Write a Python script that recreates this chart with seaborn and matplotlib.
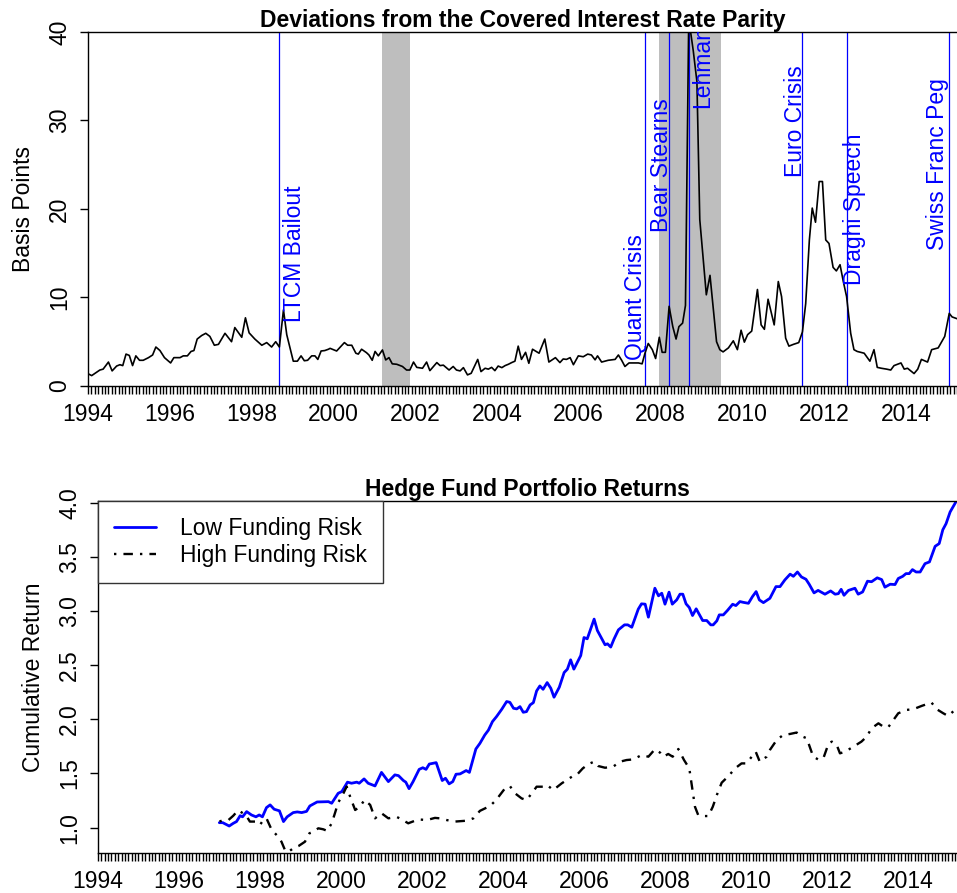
import matplotlib
matplotlib.use("Agg")
import matplotlib.pyplot as plt
from matplotlib.ticker import MultipleLocator
import seaborn as sns

# ------------------------------------------------------------
# Data (decimal years)
# ------------------------------------------------------------
cip_year = [
    1994.01, 1994.09, 1994.21, 1994.29, 1994.37, 1994.50, 1994.59, 1994.70, 1994.78, 1994.85,
    1994.93, 1995.01, 1995.09, 1995.17, 1995.26, 1995.35, 1995.48, 1995.58, 1995.66, 1995.76,
    1995.87, 1996.02, 1996.10, 1996.25, 1996.33, 1996.43, 1996.52, 1996.59, 1996.67, 1996.78,
    1996.88, 1996.98, 1997.09, 1997.19, 1997.35, 1997.51, 1997.59, 1997.76, 1997.85, 1997.94,
    1998.08, 1998.25, 1998.37, 1998.49, 1998.59, 1998.68, 1998.78, 1998.86, 1999.02, 1999.12,
    1999.21, 1999.29, 1999.37, 1999.47, 1999.55, 1999.62, 1999.70, 1999.79, 1999.88,
    1999.92, 2000.08, 2000.27, 2000.35, 2000.45, 2000.55, 2000.61, 2000.69, 2000.81, 2000.87,
    2000.95, 2001.02, 2001.10, 2001.20, 2001.28, 2001.36, 2001.44, 2001.55, 2001.69, 2001.79,
    2001.87, 2001.96, 2002.04, 2002.18, 2002.28, 2002.36, 2002.53, 2002.61, 2002.69, 2002.83,
    2002.93, 2003.01, 2003.10, 2003.18, 2003.28, 2003.37, 2003.53, 2003.61, 2003.71, 2003.79,
    2003.87, 2003.95, 2004.03, 2004.12, 2004.20, 2004.28, 2004.36, 2004.44, 2004.52, 2004.60,
    2004.70, 2004.78, 2004.87, 2005.03, 2005.17, 2005.27, 2005.43, 2005.54, 2005.62, 2005.70,
    2005.79, 2005.87, 2005.99, 2006.11, 2006.22, 2006.31, 2006.40, 2006.46, 2006.56, 2006.72,
    2006.89, 2006.97, 2007.05, 2007.13, 2007.23, 2007.33, 2007.46, 2007.55, 2007.62, 2007.70,
    2007.80, 2007.88, 2007.97, 2008.04, 2008.12, 2008.21, 2008.30, 2008.38, 2008.45, 2008.54,
    2008.61, 2008.69, 2008.80, 2008.89, 2008.96, 2009.12, 2009.21, 2009.37, 2009.45, 2009.53,
    2009.66, 2009.78, 2009.88, 2009.97, 2010.05, 2010.13, 2010.23, 2010.37, 2010.46, 2010.54,
    2010.63, 2010.78, 2010.88, 2010.96, 2011.06, 2011.14, 2011.25, 2011.38, 2011.47, 2011.55,
    2011.64, 2011.71, 2011.79, 2011.88, 2011.96, 2012.04, 2012.12, 2012.22, 2012.30, 2012.39,
    2012.47, 2012.55, 2012.65, 2012.73, 2012.81, 2012.90, 2012.98, 2013.12, 2013.22, 2013.30,
    2013.40, 2013.53, 2013.63, 2013.71, 2013.88, 2013.96, 2014.04, 2014.12, 2014.20, 2014.29,
    2014.38, 2014.53, 2014.63, 2014.79, 2014.95, 2015.06, 2015.13, 2015.25,
]
cip_bp = [
    1.36, 1.17, 1.54, 1.8, 1.9, 2.7, 1.7, 2.25, 2.4, 2.3,
    3.6, 3.45, 2.3, 3.4, 2.9, 2.9, 3.2, 3.5, 4.4, 4.0,
    3.2, 2.6, 3.2, 3.2, 3.4, 3.4, 3.9, 4.0, 5.3, 5.7,
    5.95, 5.6, 4.6, 4.7, 5.95, 5.0, 6.6, 5.5, 7.7, 6.0,
    5.3, 4.6, 4.9, 4.4, 5.0, 4.4, 8.6, 5.8, 2.8, 2.8,
    3.4, 2.85, 2.9, 3.4, 3.4, 3.0, 3.95, 4.0, 4.15,
    4.25, 3.95, 4.9, 4.6, 4.6, 3.7, 3.6, 4.15, 3.76, 3.5,
    2.9, 3.9, 3.4, 4.07, 2.94, 3.2, 2.5, 2.45, 2.2, 1.8,
    1.8, 2.7, 2.1, 2.0, 2.7, 1.73, 2.64, 2.3, 2.35, 1.8,
    2.2, 1.8, 1.7, 2.07, 1.25, 1.43, 3.0, 1.62, 2.0, 1.9,
    2.1, 1.73, 2.25, 2.07, 2.3, 2.45, 2.64, 2.8, 4.5, 3.0,
    3.8, 2.56, 4.15, 3.7, 5.3, 2.7, 3.2, 2.64, 3.05, 3.0,
    3.2, 2.4, 3.4, 3.3, 3.6, 3.5, 2.95, 3.4, 2.7, 2.9,
    3.0, 3.5, 2.9, 2.2, 2.6, 2.6, 2.6, 2.5, 3.7, 4.8,
    4.1, 3.1, 5.5, 3.8, 3.8, 9.0, 6.7, 5.3, 6.7, 7.1,
    9.1, 41.5, 37.9, 34.4, 18.8, 10.3, 12.5, 5.0, 4.1, 3.85,
    4.3, 5.1, 4.1, 6.3, 4.95, 5.8, 6.2, 10.9, 6.9, 6.4,
    9.8, 6.9, 11.8, 10.1, 5.4, 4.5, 4.7, 4.9, 6.1, 9.3,
    16.5, 20.1, 18.5, 23.1, 23.1, 16.5, 16.1, 13.4, 13.0, 13.7,
    11.8, 10.1, 5.96, 4.1, 3.9, 3.8, 3.7, 2.8, 4.1, 2.1,
    2.0, 1.9, 1.8, 2.3, 2.6, 1.9, 2.0, 1.7, 1.4, 1.9,
    3.0, 2.7, 4.1, 4.3, 5.6, 8.2, 7.8, 7.6,
]

recession_start = [2001.19, 2007.96]
recession_end = [2001.87, 2009.47]

events = ["LTCM Bailout", "Quant Crisis", "Bear Stearns", "Lehman",
          "Euro Crisis", "Draghi Speech", "Swiss Franc Peg"]
event_year = [1998.68, 2007.62, 2008.20, 2008.70, 2011.47, 2012.55, 2015.05]
event_label_x = [1999.04, 2007.40, 2008.03, 2009.04, 2011.31, 2012.75, 2014.78]
event_label_y = [7.2, 2.9, 17.4, 31.4, 23.6, 11.4, 15.4]

low_year = [
    1996.995, 1997.08, 1997.24, 1997.34, 1997.42, 1997.51, 1997.57, 1997.67, 1997.79, 1997.90,
    1997.98, 1998.06, 1998.16, 1998.25, 1998.35, 1998.48, 1998.58, 1998.67, 1998.82, 1998.92,
    1999.03, 1999.15, 1999.23, 1999.41, 1999.69, 1999.77, 1999.93, 2000.02, 2000.16, 2000.26,
    2000.39, 2000.45, 2000.57, 2000.67, 2000.84, 2001.00, 2001.17, 2001.33, 2001.42, 2001.54,
    2001.60, 2001.68, 2001.78, 2001.93, 2002.02, 2002.10, 2002.18, 2002.35, 2002.50, 2002.58,
    2002.67, 2002.76, 2002.84, 2002.94, 2003.09, 2003.17, 2003.33, 2003.43, 2003.55, 2003.64,
    2003.74, 2003.84, 2003.97, 2004.09, 2004.17, 2004.26, 2004.34, 2004.42, 2004.50, 2004.58,
    2004.67, 2004.75, 2004.83, 2004.91, 2004.99, 2005.09, 2005.18, 2005.26, 2005.39, 2005.51,
    2005.59, 2005.67, 2005.75, 2005.92, 2006.00, 2006.08, 2006.25, 2006.33, 2006.52, 2006.58,
    2006.66, 2006.74, 2006.85, 2007.00, 2007.08, 2007.18, 2007.34, 2007.42, 2007.51, 2007.59,
    2007.75, 2007.84, 2007.92, 2008.00, 2008.10, 2008.18, 2008.29, 2008.37, 2008.44, 2008.52,
    2008.60, 2008.68, 2008.77, 2008.93, 2009.03, 2009.13, 2009.19, 2009.28, 2009.34, 2009.44,
    2009.54, 2009.67, 2009.75, 2009.85, 2009.93, 2010.06, 2010.16, 2010.25, 2010.33, 2010.43,
    2010.59, 2010.74, 2010.84, 2010.96, 2011.09, 2011.17, 2011.27, 2011.37, 2011.48, 2011.56,
    2011.68, 2011.78, 2011.95, 2012.09, 2012.20, 2012.28, 2012.35, 2012.42, 2012.53, 2012.69,
    2012.77, 2012.88, 2013.00, 2013.10, 2013.24, 2013.35, 2013.43, 2013.56, 2013.68, 2013.76,
    2013.87, 2013.95, 2014.03, 2014.11, 2014.20, 2014.30, 2014.42, 2014.53, 2014.67, 2014.77,
    2014.86, 2014.94, 2015.04, 2015.19,
]
low_ret = [
    1.046, 1.046, 1.015, 1.04, 1.056, 1.11, 1.10, 1.148, 1.117, 1.10,
    1.117, 1.10, 1.185, 1.21, 1.17, 1.155, 1.056, 1.10, 1.139, 1.145,
    1.139, 1.15, 1.20, 1.237, 1.24, 1.225, 1.317, 1.333, 1.42, 1.41,
    1.42, 1.41, 1.45, 1.41, 1.385, 1.51, 1.425, 1.487, 1.48, 1.435,
    1.42, 1.36, 1.425, 1.538, 1.553, 1.538, 1.587, 1.60, 1.435, 1.456,
    1.404, 1.425, 1.493, 1.496, 1.527, 1.51, 1.726, 1.778, 1.855, 1.90,
    1.979, 2.025, 2.093, 2.164, 2.157, 2.102, 2.096, 2.117, 2.065, 2.071,
    2.133, 2.154, 2.262, 2.308, 2.277, 2.339, 2.287, 2.204, 2.296, 2.432,
    2.463, 2.549, 2.463, 2.589, 2.755, 2.743, 2.925, 2.82, 2.688, 2.697,
    2.667, 2.74, 2.826, 2.872, 2.872, 2.85, 3.017, 3.066, 3.063, 2.943,
    3.21, 3.14, 3.164, 3.063, 3.174, 3.063, 3.103, 3.155, 3.155, 3.066,
    3.032, 2.958, 3.02, 2.912, 2.912, 2.872, 2.872, 2.909, 2.964, 2.964,
    3.004, 3.062, 3.05, 3.087, 3.08, 3.071, 3.133, 3.179, 3.102, 3.077,
    3.117, 3.225, 3.225, 3.287, 3.34, 3.32, 3.36, 3.314, 3.293, 3.247,
    3.167, 3.19, 3.155, 3.185, 3.155, 3.16, 3.2, 3.145, 3.19, 3.21,
    3.155, 3.176, 3.275, 3.27, 3.306, 3.29, 3.22, 3.247, 3.244, 3.30,
    3.32, 3.345, 3.345, 3.382, 3.36, 3.36, 3.437, 3.453, 3.597, 3.622,
    3.75, 3.806, 3.914, 4.012,
]

high_year = [
    1997.00, 1997.09, 1997.22, 1997.34, 1997.46, 1997.55, 1997.65, 1997.75, 1997.88, 1998.00,
    1998.08, 1998.16, 1998.29, 1998.45, 1998.53, 1998.62, 1998.70, 1998.82, 1998.95, 1999.11,
    1999.22, 1999.32, 1999.44, 1999.56, 1999.66, 1999.77, 1999.85, 1999.93, 2000.06, 2000.14,
    2000.24, 2000.35, 2000.47, 2000.58, 2000.72, 2000.84, 2001.00, 2001.17, 2001.37, 2001.50,
    2001.66, 2001.91, 2002.12, 2002.32, 2002.44, 2002.61, 2002.81, 2003.10, 2003.27, 2003.43,
    2003.68, 2003.83, 2004.05, 2004.17, 2004.30, 2004.46, 2004.58, 2004.71, 2004.83, 2004.99,
    2005.09, 2005.24, 2005.45, 2005.70, 2005.82, 2005.97, 2006.11, 2006.25, 2006.35, 2006.52,
    2006.72, 2006.89, 2007.05, 2007.22, 2007.42, 2007.59, 2007.75, 2007.88, 2007.96, 2008.08,
    2008.19, 2008.33, 2008.47, 2008.60, 2008.68, 2008.74, 2008.82, 2008.95, 2009.07, 2009.18,
    2009.28, 2009.40, 2009.57, 2009.73, 2009.89, 2010.01, 2010.24, 2010.34, 2010.51, 2010.59,
    2010.76, 2010.92, 2011.09, 2011.25, 2011.40, 2011.50, 2011.66, 2011.78, 2011.91, 2012.04,
    2012.12, 2012.24, 2012.32, 2012.44, 2012.65, 2012.85, 2012.98, 2013.10, 2013.27, 2013.39,
    2013.51, 2013.64, 2013.76, 2013.97, 2014.13, 2014.34, 2014.46, 2014.58, 2014.71, 2014.87,
    2014.99, 2015.16,
]
high_ret = [
    1.056, 1.07, 1.07, 1.11, 1.16, 1.14, 1.117, 1.056, 1.056, 1.025,
    1.07, 1.086, 0.978, 0.917, 0.87, 0.79, 0.775, 0.81, 0.83, 0.87,
    0.948, 0.963, 0.994, 0.985, 0.97, 1.04, 1.133, 1.23, 1.317, 1.38,
    1.27, 1.163, 1.194, 1.256, 1.21, 1.086, 1.133, 1.086, 1.10, 1.076,
    1.04, 1.076, 1.07, 1.09, 1.086, 1.07, 1.056, 1.064, 1.086, 1.155,
    1.20, 1.255, 1.363, 1.384, 1.316, 1.27, 1.255, 1.316, 1.378, 1.378,
    1.393, 1.347, 1.409, 1.47, 1.486, 1.547, 1.587, 1.609, 1.569, 1.553,
    1.563, 1.609, 1.624, 1.63, 1.67, 1.655, 1.723, 1.692, 1.655, 1.68,
    1.655, 1.726, 1.624, 1.547, 1.347, 1.193, 1.116, 1.107, 1.107, 1.193,
    1.301, 1.415, 1.477, 1.547, 1.593, 1.593, 1.701, 1.609, 1.655, 1.717,
    1.81, 1.856, 1.865, 1.878, 1.84, 1.825, 1.655, 1.63, 1.64, 1.778,
    1.794, 1.763, 1.686, 1.70, 1.747, 1.794, 1.84, 1.917, 1.963, 1.932,
    1.926, 1.994, 2.056, 2.087, 2.093, 2.124, 2.14, 2.155, 2.093, 2.056,
    2.031, 2.087,
]

year_ticks = list(range(1994, 2015, 2))

# ------------------------------------------------------------
# Style
# ------------------------------------------------------------
sns.set_style("ticks")
plt.rcParams["font.family"] = ["Liberation Sans", "DejaVu Sans"]
plt.rcParams["text.color"] = "black"
plt.rcParams["axes.labelcolor"] = "black"
plt.rcParams["xtick.color"] = "black"
plt.rcParams["ytick.color"] = "black"
FS = 16.5

fig = plt.figure(figsize=(9.57, 8.93), dpi=100)
ax1 = fig.add_axes([0.09195, 0.5678, 0.90805, 0.3964])
ax2 = fig.add_axes([0.1024, 0.0448, 0.8976, 0.3945])

# ------------------------------------------------------------
# Top panel: CIP deviations
# ------------------------------------------------------------
for s, e in zip(recession_start, recession_end):
    ax1.axvspan(s, e, color="#bebebe", lw=0, zorder=0)

for yr in event_year:
    ax1.axvline(yr, color="#0000ff", lw=0.9, zorder=1)

sns.lineplot(x=cip_year, y=cip_bp, ax=ax1, color="black", lw=1.2, sort=False, zorder=3)

for name, lx, ly in zip(events, event_label_x, event_label_y):
    ax1.text(lx, ly, name, rotation=90, ha="center", va="bottom", color="#0000ff",
             fontsize=FS, clip_on=True, zorder=4)

ax1.set_xlim(1994, 2015.25)
ax1.set_ylim(0, 40)
ax1.set_yticks([0, 10, 20, 30, 40])
ax1.set_title("Deviations from the Covered Interest Rate Parity", fontsize=FS,
              fontweight="bold", pad=3, color="black")
ax1.set_ylabel("Basis Points", fontsize=FS)
ax1.yaxis.set_label_coords(-0.061, 0.5)

# ------------------------------------------------------------
# Bottom panel: hedge fund portfolio returns
# ------------------------------------------------------------
sns.lineplot(x=low_year, y=low_ret, ax=ax2, color="#0000ff", lw=2.0, sort=False,
             label="Low Funding Risk")
sns.lineplot(x=high_year, y=high_ret, ax=ax2, color="black", lw=1.7, sort=False,
             linestyle=(0, (1, 3, 4, 3)), label="High Funding Risk")

ax2.set_xlim(1994, 2015.21)
ax2.set_ylim(0.766, 4.018)
ax2.set_yticks([1.0, 1.5, 2.0, 2.5, 3.0, 3.5, 4.0])
ax2.set_yticklabels(["1.0", "1.5", "2.0", "2.5", "3.0", "3.5", "4.0"])
ax2.set_title("Hedge Fund Portfolio Returns", fontsize=FS, fontweight="bold", pad=3,
              color="black")
ax2.set_ylabel("Cumulative Return", fontsize=FS)
ax2.yaxis.set_label_coords(-0.0617, 0.5)

leg = ax2.legend(loc="upper left", bbox_to_anchor=(0, 1), borderaxespad=0,
                 fontsize=FS, frameon=True, fancybox=False, framealpha=1,
                 edgecolor="#333333", handlelength=1.85, handletextpad=1.05,
                 borderpad=0.7, labelspacing=0.2)
leg.get_frame().set_linewidth(1.0)
for t in leg.get_texts():
    t.set_color("black")

# ------------------------------------------------------------
# Shared axis styling (R base-graphics look)
# ------------------------------------------------------------
for ax in (ax1, ax2):
    ax.set_xlabel("")
    ax.xaxis.set_major_locator(MultipleLocator(2))
    ax.xaxis.set_minor_locator(MultipleLocator(1 / 12))
    ax.set_xticks(year_ticks)
    ax.set_xticklabels([str(y) for y in year_ticks])
    ax.tick_params(axis="x", which="both", length=6, width=1, color="black",
                   labelsize=FS, pad=6, labelcolor="black")
    ax.tick_params(axis="y", length=6, width=1, labelsize=FS, pad=6, labelrotation=90,
                   labelcolor="black")
    for lab in ax.get_yticklabels():
        lab.set_verticalalignment("center")
    ax.spines["right"].set_visible(False)
    for side in ("left", "top", "bottom"):
        ax.spines[side].set_color("black")
        ax.spines[side].set_linewidth(1.0)
    ax.grid(False)

fig.savefig("out.png", dpi=100)
